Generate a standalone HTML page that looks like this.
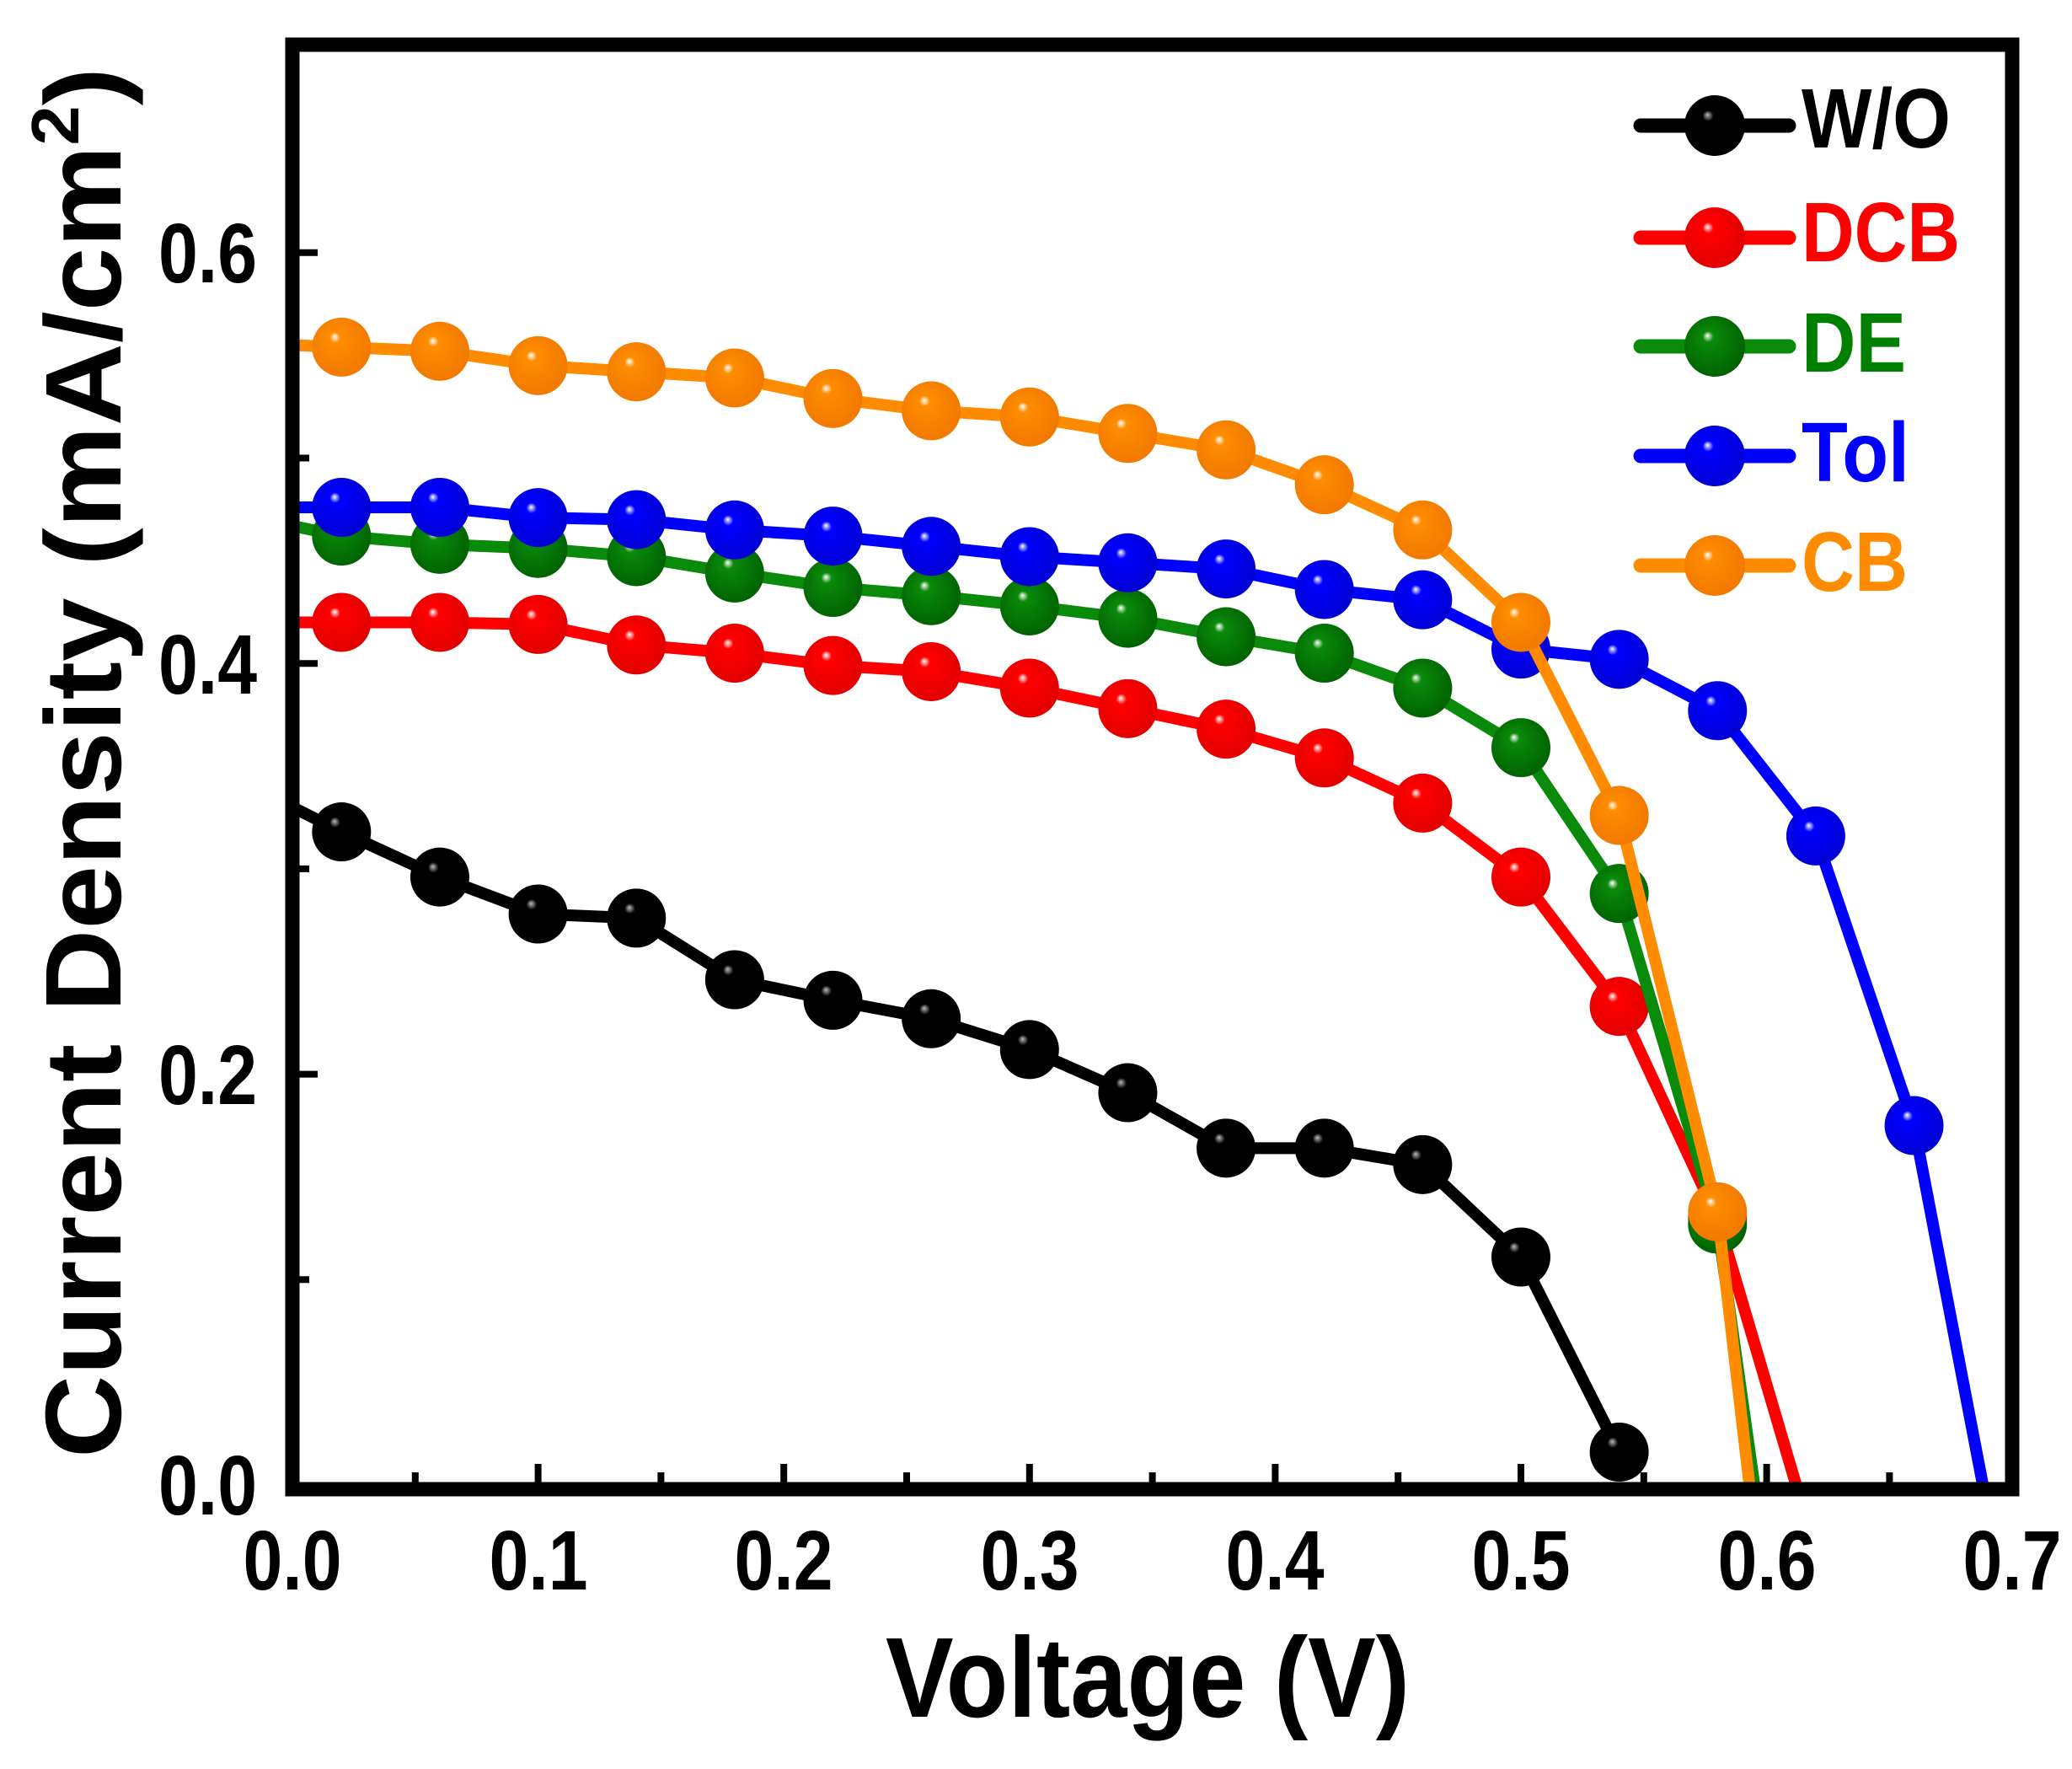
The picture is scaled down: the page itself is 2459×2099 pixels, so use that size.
<!DOCTYPE html>
<html><head><meta charset="utf-8"><style>
html,body{margin:0;padding:0;background:#fff;}
svg{display:block;}
text{font-family:"Liberation Sans",Arial,sans-serif;font-weight:bold;}
</style></head><body>
<svg id="s" width="2459" height="2099" viewBox="0 0 2459 2099" xmlns="http://www.w3.org/2000/svg">
<defs id="d"></defs>
<g id="plot"></g>
<rect x="347" y="53" width="2041" height="1714" fill="none" stroke="#000" stroke-width="17"/>
<g id="ticks" stroke="#000"></g>
<g font-size="100" text-anchor="end">
<text x="305" y="1797" textLength="117" lengthAdjust="spacingAndGlyphs">0.0</text>
<text x="305" y="1310" textLength="117" lengthAdjust="spacingAndGlyphs">0.2</text>
<text x="305" y="823" textLength="117" lengthAdjust="spacingAndGlyphs">0.4</text>
<text x="305" y="335" textLength="117" lengthAdjust="spacingAndGlyphs">0.6</text>
</g>
<g font-size="100" text-anchor="middle">
<text x="347" y="1886" textLength="117" lengthAdjust="spacingAndGlyphs">0.0</text>
<text x="639" y="1886" textLength="117" lengthAdjust="spacingAndGlyphs">0.1</text>
<text x="930" y="1886" textLength="117" lengthAdjust="spacingAndGlyphs">0.2</text>
<text x="1222" y="1886" textLength="117" lengthAdjust="spacingAndGlyphs">0.3</text>
<text x="1513" y="1886" textLength="117" lengthAdjust="spacingAndGlyphs">0.4</text>
<text x="1805" y="1886" textLength="117" lengthAdjust="spacingAndGlyphs">0.5</text>
<text x="2097" y="1886" textLength="117" lengthAdjust="spacingAndGlyphs">0.6</text>
<text x="2388" y="1886" textLength="117" lengthAdjust="spacingAndGlyphs">0.7</text>
</g>
<text x="1051" y="2037" font-size="135" textLength="622" lengthAdjust="spacingAndGlyphs">Voltage (V)</text>
<text transform="translate(143,905) rotate(-90)" x="0" y="0" font-size="128" text-anchor="middle" textLength="1650" lengthAdjust="spacingAndGlyphs">Current Density (mA/cm<tspan dy="-50" font-size="80">2</tspan><tspan dy="50">)</tspan></text>
<g id="leg"></g>
<g font-size="100">
<text x="2138" y="175" fill="#000" textLength="177" lengthAdjust="spacingAndGlyphs">W/O</text>
<text x="2138" y="310" fill="#ff0000" textLength="188" lengthAdjust="spacingAndGlyphs">DCB</text>
<text x="2138" y="441" fill="#008000" textLength="124" lengthAdjust="spacingAndGlyphs">DE</text>
<text x="2138" y="571" fill="#0000ff" textLength="128" lengthAdjust="spacingAndGlyphs">Tol</text>
<text x="2138" y="701" fill="#ff8c00" textLength="126" lengthAdjust="spacingAndGlyphs">CB</text>
</g>
</svg>
<script>
var NS="http://www.w3.org/2000/svg";
function X(v){return 347+v*2916;}function Y(j){return 1762-j*2437;}
function el(t,a,p){var e=document.createElementNS(NS,t);for(var k in a)e.setAttribute(k,a[k]);p.appendChild(e);return e;}
var defs=document.getElementById('d'),plot=document.getElementById('plot'),tk=document.getElementById('ticks'),leg=document.getElementById('leg');
for(var i=1;i<14;i++){var x=X(i*0.05),L=(i%2==0)?22:12;el('line',{x1:x,x2:x,y1:1759,y2:1759-L,'stroke-width':8},tk);}
for(var i=1;i<7;i++){var y=Y(i*0.1),L=(i%2==0)?22:12;el('line',{x1:355,x2:355+L,y1:y,y2:y,'stroke-width':8},tk);}
var S=[
{n:'k',c:'#000000',d:'#000',hl:'#bbbbbb',s:[[0,0.33]],p:[[.02,.318],[.06,.296],[.1,.278],[.14,.276],[.18,.246],[.22,.236],[.26,.227],[.3,.212],[.34,.191],[.38,.164],[.42,.164],[.46,.156],[.5,.111],[.54,.016]],e:[]},
{n:'r',c:'#ff0000',d:'#e00000',hl:'#ffffff',s:[[0,0.42]],p:[[.02,.42],[.06,.42],[.1,.419],[.14,.409],[.18,.405],[.22,.399],[.26,.396],[.3,.388],[.34,.378],[.38,.368],[.42,.354],[.46,.332],[.5,.296],[.54,.233],[.58,.13]],e:[[.612,0]]},
{n:'g',c:'#0a8a0a',d:'#006000',hl:'#ffffff',s:[[0,0.467]],p:[[.02,.462],[.06,.458],[.1,.456],[.14,.452],[.18,.444],[.22,.437],[.26,.433],[.3,.428],[.34,.422],[.38,.413],[.42,.405],[.46,.388],[.5,.359],[.54,.288],[.58,.127]],e:[[.595,0]]},
{n:'b',c:'#0000ff',d:'#0000d0',hl:'#ffffff',s:[[0,0.476]],p:[[.02,.476],[.06,.476],[.1,.471],[.14,.47],[.18,.465],[.22,.462],[.26,.457],[.3,.452],[.34,.449],[.38,.446],[.42,.436],[.46,.431],[.5,.407],[.54,.402],[.58,.377],[.62,.316],[.66,.175]],e:[[.688,0]]},
{n:'o',c:'#ff8c00',d:'#f07800',hl:'#ffffff',s:[[0,0.555]],p:[[.02,.554],[.06,.552],[.1,.545],[.14,.542],[.18,.539],[.22,.529],[.26,.523],[.3,.52],[.34,.512],[.38,.504],[.42,.487],[.46,.465],[.5,.42],[.54,.326],[.58,.133]],e:[[.593,0]]}
];
S.forEach(function(s,idx){
 var g=el('radialGradient',{id:'g'+s.n,cx:'0.45',cy:'0.45',r:'0.6',fx:'0.38',fy:'0.32'},defs);
 el('stop',{offset:'0','stop-color':s.hl},g);el('stop',{offset:'0.15','stop-color':s.c},g);el('stop',{offset:'1','stop-color':s.d},g);
 var pts=s.s.concat(s.p,s.e).map(function(q){return X(q[0])+','+Y(q[1]);}).join(' ');
 el('polyline',{points:pts,fill:'none',stroke:s.c,'stroke-width':14,'stroke-linejoin':'round'},plot);
 s.p.forEach(function(q){el('circle',{cx:X(q[0]),cy:Y(q[1]),r:35,fill:'url(#g'+s.n+')'},plot);});
 var ly=[149,282,411,541,671][idx];
 el('line',{x1:1947,x2:2123,y1:ly,y2:ly,stroke:s.c,'stroke-width':17,'stroke-linecap':'round'},leg);
 el('circle',{cx:2035,cy:ly,r:36,fill:'url(#g'+s.n+')'},leg);
});
</script>
</body></html>
